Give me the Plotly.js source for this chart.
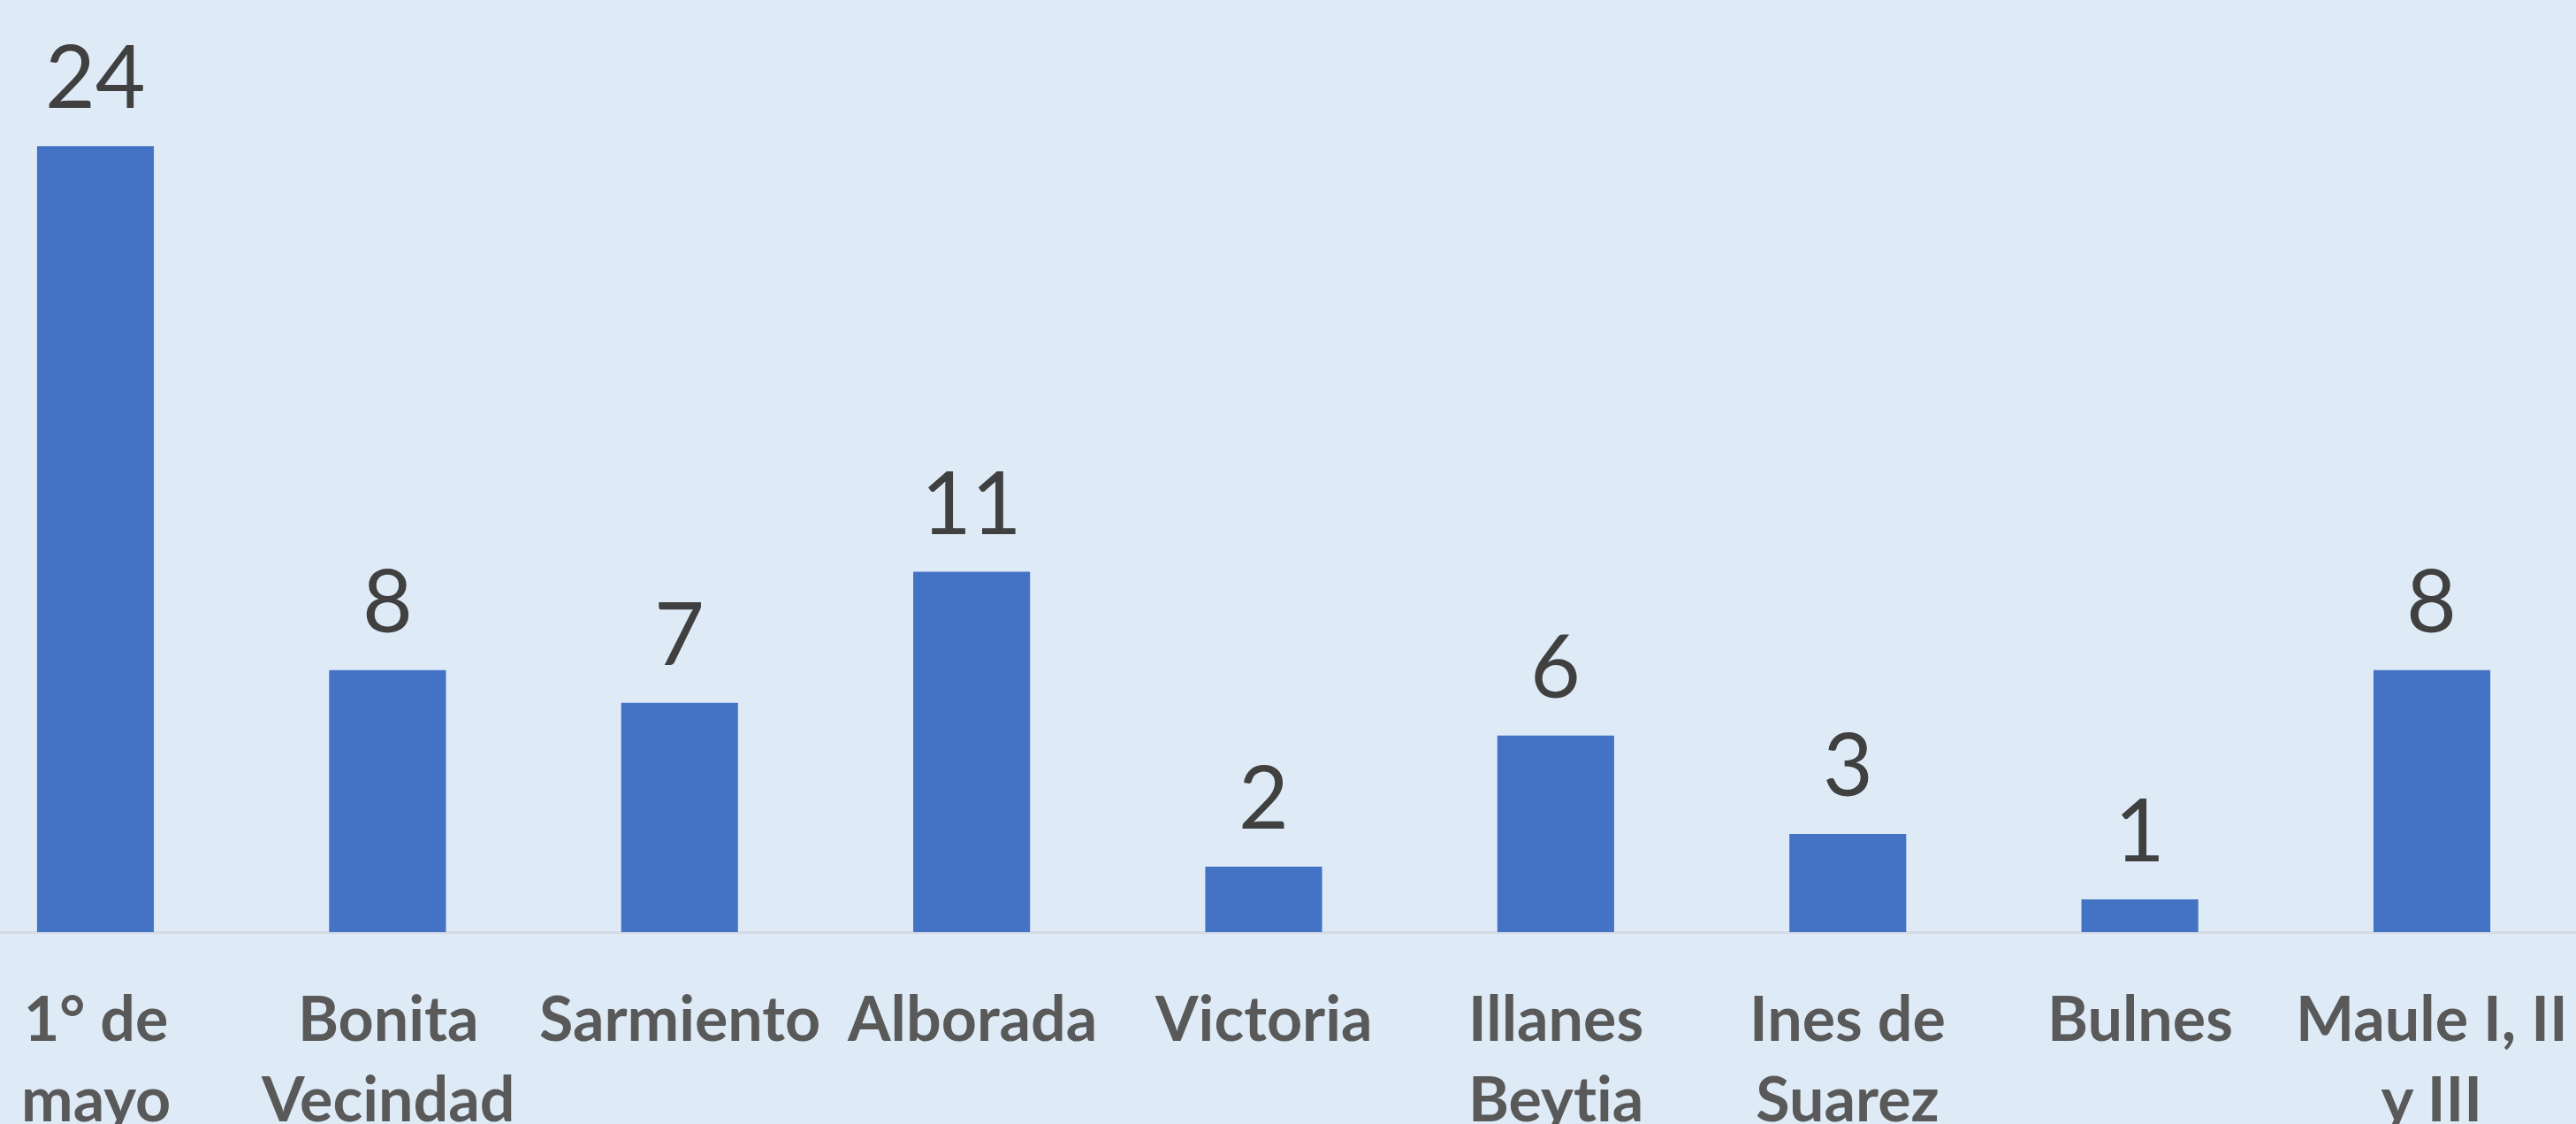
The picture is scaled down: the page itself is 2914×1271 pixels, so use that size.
<!DOCTYPE html>
<html>
<head>
<meta charset="utf-8">
<script src="https://cdn.plot.ly/plotly-3.0.1.min.js"></script>
<style>
html,body{margin:0;padding:0;background:#DEEBF7;}
#chart{width:2914px;height:1271px;}
svg text{font-variant-ligatures:none;font-feature-settings:"liga" 0, "clig" 0;}
</style>
</head>
<body>
<div id="chart"></div>
<script>
var categories = ["1° de mayo","Bonita Vecindad","Sarmiento","Alborada","Victoria","Illanes Beytia","Ines de Suarez","Bulnes","Maule I, II y III"];
var tickLabels = ["1° de<br>mayo","Bonita<br>Vecindad","Sarmiento","Alborada","Victoria","Illanes<br>Beytia","Ines de<br>Suarez","Bulnes","Maule I, II<br>y III"];
var values = [24, 8, 7, 11, 2, 6, 3, 1, 8];

var annotations = [];
for (var i = 0; i < categories.length; i++) {
  annotations.push({
    x: categories[i], y: values[i], xref: 'x', yref: 'y',
    text: String(values[i]), showarrow: false,
    yanchor: 'bottom', yshift: 20,
    font: {family: 'Lato, "Open Sans", sans-serif', size: 98, color: '#404040'}
  });
  annotations.push({
    x: categories[i], y: 0, xref: 'x', yref: 'y',
    text: tickLabels[i], showarrow: false,
    yanchor: 'top', yshift: -52,
    font: {family: 'Lato, "Open Sans", sans-serif', size: 70, color: '#595959', weight: 'bold'}
  });
}

var data = [{
  type: 'bar',
  x: categories,
  y: values,
  marker: {color: '#4472C4'},
  hoverinfo: 'x+y'
}];

var layout = {
  width: 2914, height: 1271,
  margin: {l: 0, r: 0, t: 0, b: 217, pad: 0},
  paper_bgcolor: '#DEEBF7',
  plot_bgcolor: '#DEEBF7',
  bargap: 0.6,
  showlegend: false,
  xaxis: {
    type: 'category',
    range: [-0.3269, 8.4934],
    showticklabels: false,
    showgrid: false,
    zeroline: false,
    showline: false,
    ticks: ''
  },
  yaxis: {
    range: [0, 28.46],
    showticklabels: false,
    showgrid: false,
    zeroline: true,
    zerolinecolor: '#D4DAE2',
    zerolinewidth: 3,
    showline: false,
    ticks: ''
  },
  annotations: annotations
};

Plotly.newPlot('chart', data, layout, {displayModeBar: false, staticPlot: true});
</script>
</body>
</html>
